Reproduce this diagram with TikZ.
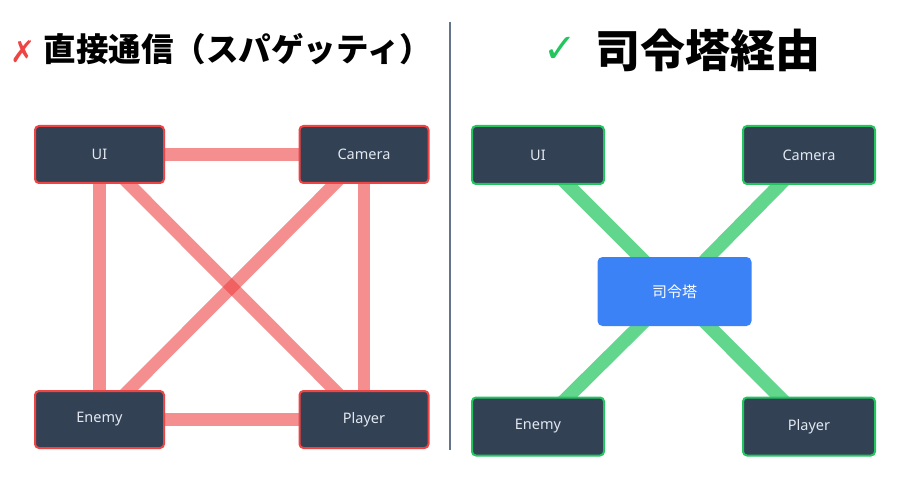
\documentclass[tikz,border=0pt]{standalone}
\usepackage{fontspec}
\setmainfont{Noto Sans}
\newfontfamily\cjk{Noto Sans CJK JP}
\newfontfamily\titlefont{Noto Sans CJK JP Black}
\newfontfamily\symfont{DejaVu Sans}
\definecolor{boxfill}{HTML}{334155}
\definecolor{redc}{HTML}{EF4444}
\definecolor{greenc}{HTML}{22C55E}
\definecolor{bluec}{HTML}{3B82F6}
\definecolor{labelc}{HTML}{E2E8F0}
\definecolor{divc}{HTML}{64748B}
\pgfdeclarelayer{back}
\pgfdeclarelayer{bg}
\pgfsetlayers{back,bg,main}
\tikzset{
  modbox/.style={rectangle, rounded corners=4pt, fill=boxfill, line width=2pt, inner sep=0pt,
    text=labelc, font=\fontsize{14.5}{16}\selectfont},
  badbox/.style={modbox, draw=redc, minimum width=129pt, minimum height=57pt},
  goodbox/.style={modbox, draw=greenc, minimum width=132pt, minimum height=58pt},
  hubbox/.style={rectangle, rounded corners=5pt, fill=bluec, inner sep=0pt, minimum width=154pt,
    minimum height=69pt, text=white, font=\cjk\fontsize{15}{17}\selectfont},
  badlink/.style={draw=redc, draw opacity=0.6, line width=12.5pt},
  goodlink/.style={draw=greenc, draw opacity=0.7, line width=13.5pt},
  titletext/.style={inner sep=0pt, text=black},
}
\begin{document}
\begin{tikzpicture}[x=1pt,y=-1pt]
\useasboundingbox (0,0) rectangle (900,500);
\begin{pgfonlayer}{back}
\fill[white] (0,0) rectangle (900,500);
\end{pgfonlayer}
% titles
\node[titletext, text=redc, font=\symfont\fontsize{30}{32}\selectfont] (xmark) at (23,52) {✗};
\node[titletext, font=\titlefont\fontsize{32.5}{35}\selectfont] (ltitle) at (238,49) {直接通信（スパゲッティ）};
\node[titletext, text=greenc, font=\symfont\fontsize{40}{42}\selectfont] (check) at (560,50) {✓};
\node[titletext, font=\titlefont\fontsize{45}{48}\selectfont] (rtitle) at (707.5,50) {司令塔経由};
% divider
\coordinate (dtop) at (450,22);
\coordinate (dbot) at (450,450);
\draw[divc, line width=2pt] (dtop) -- (dbot);
% left side
\node[badbox] (lui) at (99.5,154.5) {UI};
\node[badbox] (lcam) at (364,154.5) {Camera};
\node[badbox] (lenemy) at (99.5,419.5) {Enemy};
\node[badbox] (lplayer) at (364,419.5) {Player};
\begin{pgfonlayer}{bg}
\draw[badlink] (lui.center) -- (lcam.center);
\draw[badlink] (lui.center) -- (lenemy.center);
\draw[badlink] (lcam.center) -- (lplayer.center);
\draw[badlink] (lenemy.center) -- (lplayer.center);
\draw[badlink] (lui.center) -- (lplayer.center);
\draw[badlink] (lcam.center) -- (lenemy.center);
\end{pgfonlayer}
% right side
\node[goodbox] (rui) at (538,155) {UI};
\node[goodbox] (rcam) at (809,155) {Camera};
\node[goodbox] (renemy) at (538,426.5) {Enemy};
\node[goodbox] (rplayer) at (809,426.5) {Player};
\node[hubbox] (hub) at (674.5,291.5) {司令塔};
\begin{pgfonlayer}{bg}
\draw[goodlink] (rui.center) -- (hub.center);
\draw[goodlink] (rcam.center) -- (hub.center);
\draw[goodlink] (renemy.center) -- (hub.center);
\draw[goodlink] (rplayer.center) -- (hub.center);
\end{pgfonlayer}
\end{tikzpicture}
\end{document}
